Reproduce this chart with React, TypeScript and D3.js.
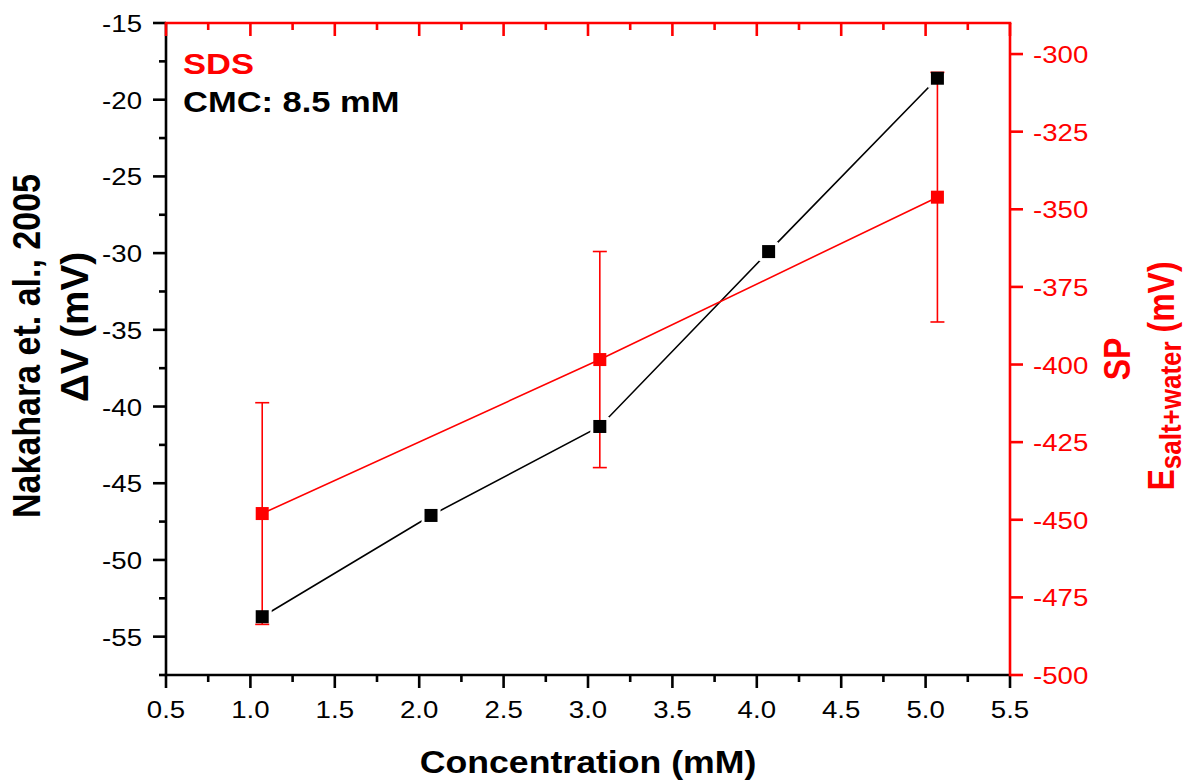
import React from "react";
import * as d3 from "d3";

const concentration = [1.07, 2.07, 3.07, 4.07, 5.07];
const deltaV = [-53.7, -47.1, -41.3, -29.9, -18.6];
const spConc = [1.07, 3.07, 5.07];
const spValues = [-448.0, -398.4, -346.1];
const spErrors = [35.7, 34.8, 40.2];

const xTicks = [0.5, 1.0, 1.5, 2.0, 2.5, 3.0, 3.5, 4.0, 4.5, 5.0, 5.5];
const xMinor = [0.75, 1.25, 1.75, 2.25, 2.75, 3.25, 3.75, 4.25, 4.75, 5.25];
const leftTicks = [-55, -50, -45, -40, -35, -30, -25, -20, -15];
const leftMinor = [-57.5, -52.5, -47.5, -42.5, -37.5, -32.5, -27.5, -22.5, -17.5];
const rightTicks = [-500, -475, -450, -425, -400, -375, -350, -325, -300];

const W = 1190;
const H = 780;
const L = 166, R = 1010, T = 23, B = 675;
const SX = 1.15;
const RED = "#ff0000";
const FONT = "'Liberation Sans', Arial, Helvetica, sans-serif";

export default function App() {
  const x = d3.scaleLinear().domain([0.5, 5.5]).range([L, R]);
  const yL = d3.scaleLinear().domain([-57.5, -15]).range([B, T]);
  const yR = d3.scaleLinear().domain([-500, -290]).range([B, T]);

  const lineL = d3.line<number>().x((_, i) => x(concentration[i])).y((d) => yL(d));
  const lineR = d3.line<number>().x((_, i) => x(spConc[i])).y((d) => yR(d));

  const sq = 13;
  const cap = 14;

  const txt = (
    key: string,
    tx: number,
    ty: number,
    content: React.ReactNode,
    opts: { size: number; anchor?: string; fill?: string; bold?: boolean; rotate?: number; textLength?: number }
  ) => (
    <text
      key={key}
      transform={`translate(${tx},${ty}) scale(${SX},1)${opts.rotate ? ` rotate(${opts.rotate})` : ""}`}
      fontSize={opts.size}
      fontFamily={FONT}
      fontWeight={opts.bold ? "bold" : "normal"}
      textAnchor={opts.anchor || "start"}
      fill={opts.fill || "#000"}
      textLength={opts.textLength}
      lengthAdjust={opts.textLength ? "spacingAndGlyphs" : undefined}
    >
      {content}
    </text>
  );

  return (
    <svg width={W} height={H} style={{ position: "absolute", left: 0, top: 0, background: "#fff" }}>
      <rect x={0} y={0} width={W} height={H} fill="#fff" />

      {/* black data line */}
      <path d={lineL(deltaV) || ""} fill="none" stroke="#000" strokeWidth={1.6} />
      {/* gaps around black squares */}
      {deltaV.map((v, i) => (
        <rect key={"g" + i} x={x(concentration[i]) - sq / 2 - 3} y={yL(v) - sq / 2 - 3} width={sq + 6} height={sq + 6} fill="#fff" />
      ))}

      {/* red line */}
      <path d={lineR(spValues) || ""} fill="none" stroke={RED} strokeWidth={1.6} />
      {/* red error bars */}
      {spValues.map((v, i) => {
        const cx = x(spConc[i]);
        const y1 = yR(v + spErrors[i]);
        const y2 = yR(v - spErrors[i]);
        return (
          <g key={"e" + i} stroke={RED} strokeWidth={1.6}>
            <line x1={cx} x2={cx} y1={y1} y2={y2} />
            <line x1={cx - cap / 2} x2={cx + cap / 2} y1={y1} y2={y1} />
            <line x1={cx - cap / 2} x2={cx + cap / 2} y1={y2} y2={y2} />
          </g>
        );
      })}

      {/* squares */}
      {deltaV.map((v, i) => (
        <rect key={"b" + i} x={x(concentration[i]) - sq / 2} y={yL(v) - sq / 2} width={sq} height={sq} fill="#000" />
      ))}
      {spValues.map((v, i) => (
        <rect key={"r" + i} x={x(spConc[i]) - sq / 2} y={yR(v) - sq / 2} width={sq} height={sq} fill={RED} />
      ))}

      {/* left axis */}
      <line x1={L} x2={L} y1={T} y2={B} stroke="#000" strokeWidth={2.6} />
      {leftTicks.map((t) => (
        <line key={"lt" + t} x1={L - 13} x2={L} y1={yL(t)} y2={yL(t)} stroke="#000" strokeWidth={2.6} />
      ))}
      {leftMinor.map((t) => (
        <line key={"lm" + t} x1={L - 7} x2={L} y1={yL(t)} y2={yL(t)} stroke="#000" strokeWidth={2.6} />
      ))}
      {leftTicks.map((t) => txt("ll" + t, 142, yL(t) + 9, String(t), { size: 24, anchor: "end" }))}

      {/* bottom axis */}
      <line x1={L - 1.3} x2={R} y1={B} y2={B} stroke="#000" strokeWidth={2.6} />
      {xTicks.map((t) => (
        <line key={"bt" + t} x1={x(t)} x2={x(t)} y1={B} y2={B + 13} stroke="#000" strokeWidth={2.6} />
      ))}
      {xMinor.map((t) => (
        <line key={"bm" + t} x1={x(t)} x2={x(t)} y1={B} y2={B + 7} stroke="#000" strokeWidth={2.6} />
      ))}
      {xTicks.map((t) => txt("bl" + t, x(t), 718, d3.format(".1f")(t), { size: 24, anchor: "middle" }))}

      {/* top axis (red) */}
      <line x1={L - 1.3} x2={R + 1.3} y1={T} y2={T} stroke={RED} strokeWidth={2.6} />
      {xTicks.map((t) => (
        <line key={"tt" + t} x1={x(t)} x2={x(t)} y1={T} y2={T + 13} stroke={RED} strokeWidth={2.6} />
      ))}
      {xMinor.map((t) => (
        <line key={"tm" + t} x1={x(t)} x2={x(t)} y1={T} y2={T + 7} stroke={RED} strokeWidth={2.6} />
      ))}

      {/* right axis (red) */}
      <line x1={R} x2={R} y1={T} y2={B + 1.3} stroke={RED} strokeWidth={2.6} />
      {rightTicks.map((t) => (
        <line key={"rt" + t} x1={R} x2={R + 13} y1={yR(t)} y2={yR(t)} stroke={RED} strokeWidth={2.6} />
      ))}
      {rightTicks.map((t) => txt("rl" + t, 1033, yR(t) + 9, String(t), { size: 24, anchor: "start", fill: RED }))}

      {/* annotations */}
      {txt("sds", 183, 74, "SDS", { size: 30, bold: true, fill: RED })}
      {txt("cmc", 183, 112, "CMC: 8.5 mM", { size: 30, bold: true })}

      {/* axis titles */}
      {txt("xt", (L + R) / 2, 773, "Concentration (mM)", { size: 31, bold: true, anchor: "middle" })}
      {txt("yl1", 40, 346, "Nakahara et. al., 2005", { size: 34, bold: true, anchor: "middle", rotate: -90 })}
      {txt("yl2", 88, 327, "ΔV (mV)", { size: 34, bold: true, anchor: "middle", rotate: -90, textLength: 150 })}
      {txt("yr1", 1130, 359, "SP", { size: 32, bold: true, anchor: "middle", rotate: -90, fill: RED })}
      {txt(
        "yr2",
        1174,
        376,
        <>
          <tspan>E</tspan>
          <tspan fontSize={26} dy={6}>salt+water</tspan>
          <tspan dy={-6}> (mV)</tspan>
        </>,
        { size: 32, bold: true, anchor: "middle", rotate: -90, fill: RED }
      )}
    </svg>
  );
}
